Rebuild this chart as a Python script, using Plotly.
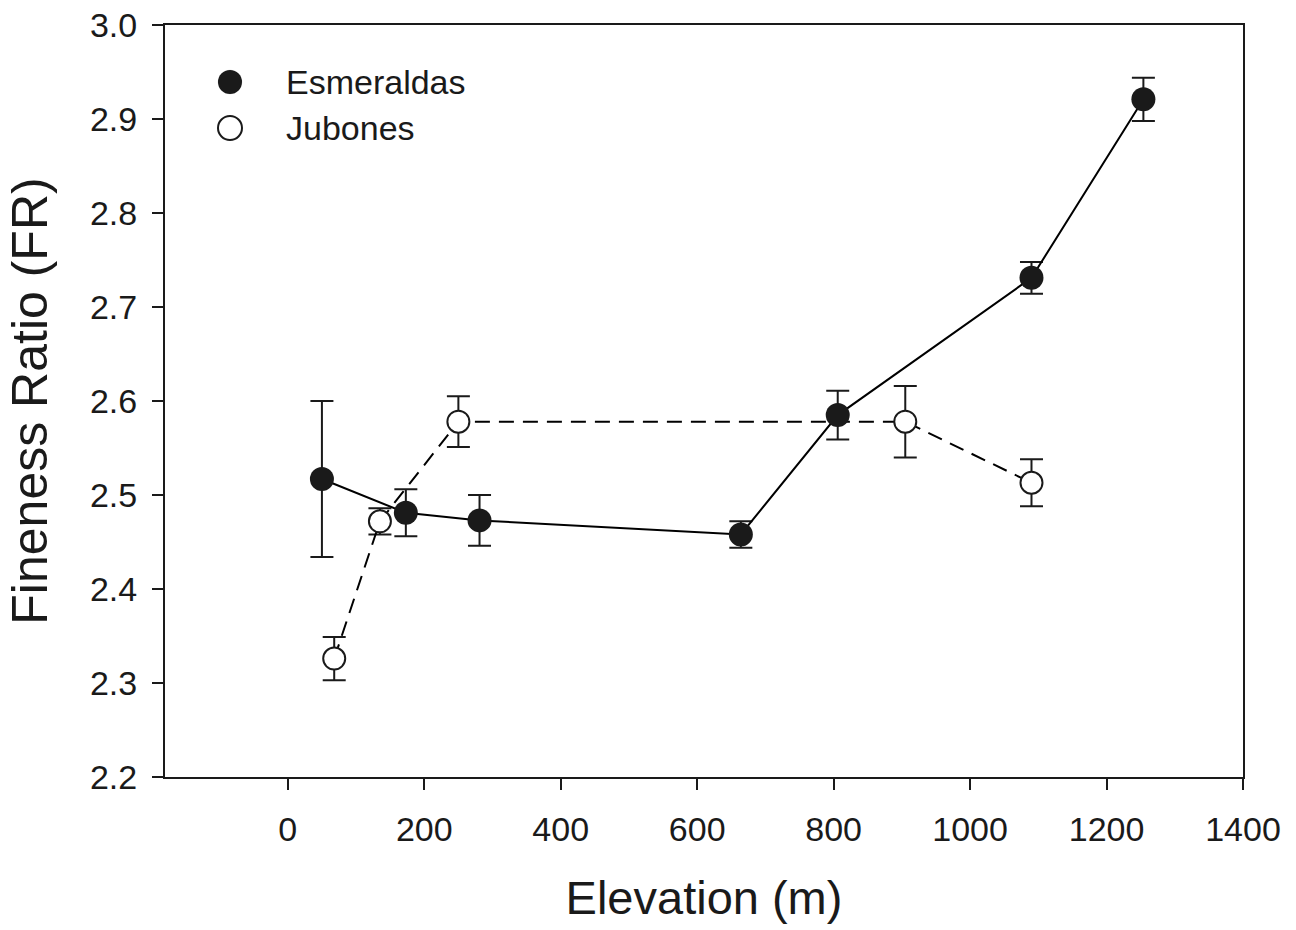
import plotly.graph_objects as go

# Esmeraldas
esm_x = [50, 173, 281, 664, 806, 1090, 1254]
esm_y = [2.517, 2.481, 2.473, 2.458, 2.585, 2.731, 2.921]
esm_err = [0.083, 0.025, 0.027, 0.014, 0.026, 0.017, 0.023]

# Jubones
jub_x = [68, 135, 250, 905, 1090]
jub_y = [2.326, 2.472, 2.578, 2.578, 2.513]
jub_err = [0.023, 0.014, 0.027, 0.038, 0.025]

x_ticks = [0, 200, 400, 600, 800, 1000, 1200, 1400]
y_ticks = [2.2, 2.3, 2.4, 2.5, 2.6, 2.7, 2.8, 2.9, 3.0]

series_names = ["Esmeraldas", "Jubones"]

FONT = "Liberation Sans, Arial, sans-serif"
INK = "#1a1a1a"

W, H = 1296, 930
ML, MR, MT, MB = 165, 53, 25, 153
PW, PH = W - ML - MR, H - MT - MB

fig = go.Figure()

fig.add_trace(go.Scatter(
    x=jub_x, y=jub_y, mode="lines+markers", showlegend=False, name=series_names[1],
    line=dict(color="black", width=2, dash="15px,9px"),
    marker=dict(symbol="circle", size=22, color="white", line=dict(color=INK, width=2)),
    error_y=dict(type="data", array=jub_err, visible=True, color=INK, thickness=2, width=11.5),
))
fig.add_trace(go.Scatter(
    x=esm_x, y=esm_y, mode="lines+markers", showlegend=False, name=series_names[0],
    line=dict(color="black", width=2),
    marker=dict(symbol="circle", size=24, color=INK, line=dict(color=INK, width=0)),
    error_y=dict(type="data", array=esm_err, visible=True, color=INK, thickness=2, width=11.5),
))

# manual legend (paper coordinates)
def px_to_paper(px, py):
    return (px - ML) / PW, 1 - (py - MT) / PH

legend_rows = [(series_names[0], INK, INK, 0, 82), (series_names[1], "white", INK, 2, 128)]
for name, fill, edge, lw, cy in legend_rows:
    r = 12
    x0, y0 = px_to_paper(230 - r, cy + r)
    x1, y1 = px_to_paper(230 + r, cy - r)
    fig.add_shape(type="circle", xref="paper", yref="paper", x0=x0, y0=y0, x1=x1, y1=y1,
                  fillcolor=fill, line=dict(color=edge, width=lw if lw else 0.1), layer="above")
    tx, ty = px_to_paper(284, cy)
    fig.add_annotation(text=name, xref="paper", yref="paper", x=tx, y=ty,
                       xanchor="left", yanchor="middle", showarrow=False,
                       font=dict(family=FONT, size=34, color=INK))

axis_common = dict(
    showgrid=False, zeroline=False, showline=True, linecolor=INK, linewidth=2,
    mirror=True, ticks="outside", ticklen=11, tickwidth=2, tickcolor=INK,
    tickfont=dict(family=FONT, size=34, color=INK), automargin=False,
)

fig.update_layout(
    width=W, height=H,
    margin=dict(l=ML, r=MR, t=MT, b=MB),
    paper_bgcolor="white", plot_bgcolor="white",
    font=dict(family=FONT, color=INK),
    showlegend=False,
    xaxis=dict(
        range=[-180, 1400], tickvals=x_ticks, ticktext=[str(v) for v in x_ticks],
        title=dict(text="Elevation (m)", font=dict(family=FONT, size=47, color=INK), standoff=34),
        ticklabelstandoff=10,
        **axis_common,
    ),
    yaxis=dict(
        range=[2.2, 3.0], tickvals=y_ticks, ticktext=[f"{v:.1f}" for v in y_ticks],
        title=dict(text="Fineness Ratio (FR)", font=dict(family=FONT, size=50, color=INK), standoff=26),
        ticklabelstandoff=8,
        **axis_common,
    ),
)

fig.write_html("out.html")
